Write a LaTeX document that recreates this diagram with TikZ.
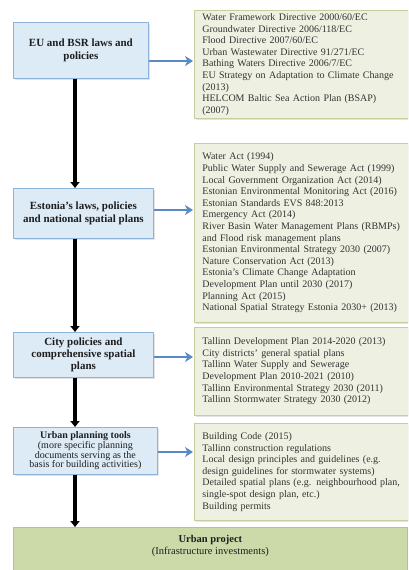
\documentclass[tikz,border=0pt]{standalone}
\usepackage{fontspec}
\setmainfont{Liberation Serif}
\usetikzlibrary{arrows.meta,shadows}

\definecolor{bluefill}{HTML}{DDEBF7}
\definecolor{blueline}{HTML}{8DB3DA}
\definecolor{greenfill}{HTML}{EEF1E2}
\definecolor{greenline}{HTML}{C3CF9C}
\definecolor{projfill}{HTML}{CCDAAA}
\definecolor{projline}{HTML}{B2C488}
\definecolor{arrowblue}{HTML}{5A8AC6}
\definecolor{listtext}{HTML}{333333}
\definecolor{titletext}{HTML}{1E1E1E}

\tikzset{
  softshadow/.style={drop shadow={opacity=0.22, shadow xshift=1.2pt, shadow yshift=-1.2pt}},
  levelbox/.style={draw=blueline, fill=bluefill, line width=0.8pt, anchor=north west,
    align=center, inner sep=2pt, text=titletext, softshadow,
    font=\fontsize{11}{13}\selectfont},
  listbox/.style={draw=greenline, fill=greenfill, line width=0.8pt, anchor=north west,
    align=left, inner xsep=8pt, inner ysep=2pt, text width=198pt, minimum width=212pt,
    text=listtext, softshadow, font=\fontsize{10}{11.6}\selectfont},
  projbox/.style={draw=projline, fill=projfill, line width=0.8pt, anchor=north west},
  flow/.style={line width=3.6pt, black, -{Triangle[width=9pt,length=6pt]}},
  feed/.style={line width=2.6pt, arrowblue, shorten >=1pt,
    -{Stealth[width=10pt,length=8pt,inset=2.5pt]}}
}

\begin{document}
\begin{tikzpicture}[x=1pt,y=-1pt]
\useasboundingbox[fill=white] (0,0) rectangle (408,570);
\clip (0,0) rectangle (408,570);

% hierarchy levels (left column)
\node[levelbox, minimum width=135pt, minimum height=56pt] (eu) at (13,22)
  {\bfseries EU and BSR laws and\\\bfseries policies};
\node[levelbox, minimum width=140pt, minimum height=50pt] (est) at (13,188)
  {\bfseries Estonia’s laws, policies\\\bfseries and national spatial plans};
\node[levelbox, minimum width=140pt, minimum height=45pt, font=\fontsize{11}{12}\selectfont] (city) at (13,332)
  {\bfseries City policies and\\\bfseries comprehensive spatial\\\bfseries plans};
\node[levelbox, minimum width=144pt, minimum height=47pt,
      font=\fontsize{10}{9.8}\selectfont] (tools) at (13,427)
  {\textbf{Urban planning tools}\\(more specific planning\\documents serving as the\\basis for building activities)};

% documents belonging to each level (right column)
\node[listbox, minimum height=108pt] (r1) at (194,10)
  {Water Framework Directive 2000/60/EC\\
   Groundwater Directive 2006/118/EC\\
   Flood Directive 2007/60/EC\\
   Urban Wastewater Directive 91/271/EC\\
   Bathing Waters Directive 2006/7/EC\\
   EU Strategy on Adaptation to Climate Change\\
   (2013)\\
   HELCOM Baltic Sea Action Plan (BSAP)\\
   (2007)};
\node[listbox, minimum height=179pt] (r2) at (194,143)
  {Water Act (1994)\\
   Public Water Supply and Sewerage Act (1999)\\
   Local Government Organization Act (2014)\\
   Estonian Environmental Monitoring Act (2016)\\
   Estonian Standards EVS 848:2013\\
   Emergency Act (2014)\\
   River Basin Water Management Plans (RBMPs)\\
   and Flood risk management plans\\
   Estonian Environmental Strategy 2030 (2007)\\
   Nature Conservation Act (2013)\\
   Estonia’s Climate Change Adaptation\\
   Development Plan until 2030 (2017)\\
   Planning Act (2015)\\
   National Spatial Strategy Estonia 2030+ (2013)};
\node[listbox, minimum height=88pt] (r3) at (194,327)
  {Tallinn Development Plan 2014-2020 (2013)\\
   City districts’ general spatial plans\\
   Tallinn Water Supply and Sewerage\\
   Development Plan 2010-2021 (2010)\\
   Tallinn Environmental Strategy 2030 (2011)\\
   Tallinn Stormwater Strategy 2030 (2012)};
\node[listbox, minimum height=97pt] (r4) at (194,423)
  {Building Code (2015)\\
   Tallinn construction regulations\\
   Local design principles and guidelines (e.g.\\
   design guidelines for stormwater systems)\\
   Detailed spatial plans (e.g. neighbourhood plan,\\
   single-spot design plan, etc.)\\
   Building permits};

% final outcome
\node[projbox, minimum width=394pt, minimum height=56pt] (proj) at (13,527) {};
\node[anchor=north, align=center, inner sep=0pt, text=titletext,
      font=\fontsize{10.5}{12}\selectfont] (projtext) at ([yshift=-8pt]proj.north)
  {\textbf{Urban project}\\(Infrastructure investments)};

% downward chain
\coordinate (ax) at (75,0);
\draw[flow] (eu.south -| ax) -- (est.north -| ax);
\draw[flow] (est.south -| ax) -- (city.north -| ax);
\draw[flow] (city.south -| ax) -- (tools.north -| ax);
\draw[flow] (tools.south -| ax) -- (proj.north -| ax);

% links to the document lists
\coordinate (y1) at (0,61);
\coordinate (y2) at (0,210);
\coordinate (y3) at (0,357);
\coordinate (y4) at (0,452);
\draw[feed] (eu.east |- y1) -- (r1.west |- y1);
\draw[feed] (est.east |- y2) -- (r2.west |- y2);
\draw[feed] (city.east |- y3) -- (r3.west |- y3);
\draw[feed] (tools.east |- y4) -- (r4.west |- y4);
\end{tikzpicture}
\end{document}
